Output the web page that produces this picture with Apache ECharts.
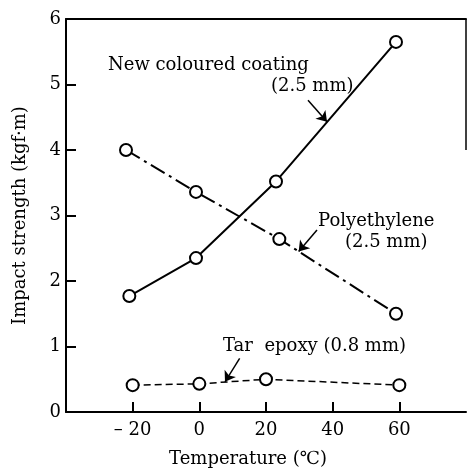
<!DOCTYPE html>
<html>
<head>
<meta charset="utf-8">
<script src="https://cdn.jsdelivr.net/npm/echarts@6/dist/echarts.min.js"></script>
<style>
  html, body { margin: 0; padding: 0; background: #fff; }
  #main { width: 467px; height: 468px; }
</style>
</head>
<body>
<div id="main"></div>
<script>
// values
var xTicks = [-20, 0, 20, 40, 60];
var coatingX = [-21, -1, 23, 59];
var coatingY = [1.77, 2.35, 3.52, 5.65];
var polyX = [-22, -1, 24, 59];
var polyY = [4.0, 3.36, 2.64, 1.5];
var tarX = [-20, 0, 20, 60];
var tarY = [0.41, 0.43, 0.5, 0.41];

var FONT = 'DejaVu Serif';
var TXT = '18px "DejaVu Serif"';

function pairs(xs, ys) {
  var out = [];
  for (var i = 0; i < xs.length; i++) {
    out.push([xs[i], ys[i]]);
  }
  return out;
}

// leader arrows pointing at the curves
function arrow(from, to) {
  return {
    symbol: ['none', 'arrow'],
    symbolSize: 10,
    silent: true,
    label: { show: false },
    itemStyle: { color: '#000', borderWidth: 0 },
    lineStyle: { color: '#000', width: 1.5, type: 'solid' },
    data: [[{ coord: from }, { coord: to }]]
  };
}

var chart = echarts.init(document.getElementById('main'));

var circle = {
  symbol: 'circle',
  symbolSize: 12,
  itemStyle: { color: '#fff', borderColor: '#000', borderWidth: 2 }
};

var option = {
  backgroundColor: '#ffffff',
  animation: false,
  grid: { left: 66, right: 1, top: 19, bottom: 56, outerBoundsMode: 'none' },
  xAxis: [{
    type: 'value',
    min: -40,
    max: 80,
    interval: 20,
    name: 'Temperature (\u2103)',
    nameLocation: 'middle',
    nameGap: 38,
    nameTextStyle: { fontFamily: FONT, fontSize: 18, color: '#000', padding: [0, 36, 0, 0] },
    splitLine: { show: false },
    axisLine: { onZero: false, lineStyle: { color: '#000', width: 2 } },
    axisTick: { inside: true, length: 10, customValues: xTicks, lineStyle: { color: '#000', width: 2 } },
    axisLabel: {
      customValues: xTicks,
      margin: 9,
      fontFamily: FONT, fontSize: 18, color: '#000',
      formatter: function (v) { return v < 0 ? '\u2013 ' + (-v) : '' + v; }
    }
  }, {
    type: 'value',
    position: 'top',
    min: -40,
    max: 80,
    splitLine: { show: false },
    axisLine: { onZero: false, lineStyle: { color: '#000', width: 2 } },
    axisTick: { show: false },
    axisLabel: { show: false }
  }],
  yAxis: {
    type: 'value',
    min: 0,
    max: 6,
    interval: 1,
    name: 'Impact strength (kgf\u00b7m)',
    nameLocation: 'middle',
    nameGap: 37,
    nameTextStyle: { fontFamily: FONT, fontSize: 18, color: '#000' },
    splitLine: { show: false },
    axisLine: { onZero: false, lineStyle: { color: '#000', width: 2 } },
    axisTick: { inside: true, length: 10, lineStyle: { color: '#000', width: 2 } },
    axisLabel: { margin: 5, fontFamily: FONT, fontSize: 18, color: '#000' }
  },
  graphic: [
    { type: 'line', shape: { x1: 466, y1: 19, x2: 466, y2: 150 }, style: { stroke: '#000', lineWidth: 1.5 } },
    { type: 'text', left: 108, top: 56, style: { text: 'New coloured coating', font: TXT, fill: '#000' } },
    { type: 'text', left: 271, top: 77, style: { text: '(2.5 mm)', font: TXT, fill: '#000' } },
    { type: 'text', left: 318, top: 212, style: { text: 'Polyethylene', font: TXT, fill: '#000' } },
    { type: 'text', left: 345, top: 233, style: { text: '(2.5 mm)', font: TXT, fill: '#000' } },
    { type: 'text', left: 223, top: 337, style: { text: 'Tar  epoxy (0.8 mm)', font: TXT, fill: '#000' } }
  ],
  series: [
    Object.assign({
      name: 'New coloured coating',
      type: 'line',
      data: pairs(coatingX, coatingY),
      lineStyle: { color: '#000', width: 2, type: 'solid' },
      markLine: arrow([32.6, 4.76], [38.3, 4.43])
    }, circle),
    Object.assign({
      name: 'Polyethylene',
      type: 'line',
      data: pairs(polyX, polyY),
      lineStyle: { color: '#000', width: 2, type: [16, 5, 3, 5] },
      markLine: arrow([35.3, 2.78], [29.8, 2.45])
    }, circle),
    Object.assign({
      name: 'Tar epoxy',
      type: 'line',
      data: pairs(tarX, tarY),
      lineStyle: { color: '#000', width: 1.5, type: [7, 4] },
      markLine: arrow([12.1, 0.82], [7.7, 0.46])
    }, circle)
  ]
};

chart.setOption(option);
</script>
</body>
</html>
